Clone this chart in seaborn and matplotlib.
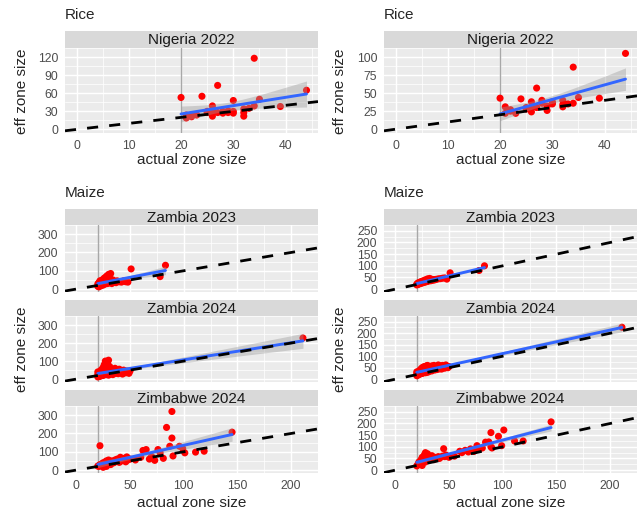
import numpy as np
import pandas as pd
import matplotlib
matplotlib.use('Agg')
import matplotlib.pyplot as plt
import seaborn as sns

# Rice, Nigeria 2022: actual zone size and the two eff zone size estimates
rice_x = [20, 21, 21, 22, 22, 23, 24, 25, 25, 26, 26, 26, 27, 27, 28,
          28, 29, 29, 30, 30, 30, 32, 32, 32, 33, 34, 34, 35, 39, 44]
rice_left = [53, 19, 24, 21, 23, 24, 55, 28, 30, 22, 30, 39, 73, 28, 27,
             30, 31, 28, 27, 48, 30, 22, 28, 34, 35, 39, 118, 50, 38, 65]
rice_right = [43, 31, 22, 27, 25, 22, 42, 28, 30, 24, 30, 38, 57, 30, 40,
              36, 26, 32, 36, 35, 38, 31, 34, 40, 35, 36, 86, 44, 43, 105]

# Maize, Zambia 2023
zam23_x = [20, 20, 21, 21, 22, 22, 23, 23, 24, 24, 25, 25, 26, 26, 27, 27, 28, 28, 29, 29,
           30, 30, 31, 31, 32, 33, 33, 34, 35, 36, 37, 38, 40, 42, 44, 46, 48, 51, 78, 83]
zam23_left = [15, 28, 12, 35, 20, 45, 18, 30, 25, 50, 22, 40, 30, 60, 28, 48, 35, 70, 30, 55,
              40, 80, 35, 62, 85, 45, 30, 50, 38, 42, 35, 45, 40, 38, 45, 40, 38, 110, 68, 130]
zam23_right = [18, 22, 20, 26, 22, 28, 24, 30, 25, 32, 27, 33, 28, 36, 30, 34, 31, 40, 32, 38,
               34, 44, 35, 40, 46, 36, 37, 42, 38, 41, 40, 42, 44, 45, 47, 48, 43, 70, 80, 100]

# Maize, Zambia 2024
zam24_x = [20, 20, 20, 21, 21, 22, 22, 22, 23, 23, 24, 24, 25, 25, 25, 26, 26, 27, 27, 28,
           28, 29, 29, 30, 30, 30, 31, 31, 32, 32, 33, 34, 34, 35, 36, 37, 38, 39, 40, 41,
           42, 43, 44, 45, 46, 47, 48, 49, 50, 211]
zam24_left = [12, 25, 40, 15, 30, 20, 42, 15, 28, 50, 22, 55, 20, 35, 65, 28, 80, 32, 100, 25,
              60, 40, 90, 22, 105, 45, 35, 70, 28, 55, 42, 25, 50, 38, 60, 32, 45, 30, 55, 38,
              42, 28, 50, 40, 35, 45, 38, 32, 45, 228]
zam24_right = [15, 25, 32, 18, 30, 22, 35, 20, 33, 40, 24, 45, 25, 38, 50, 28, 52, 30, 55, 28,
               48, 32, 58, 30, 60, 45, 33, 55, 35, 50, 40, 36, 58, 42, 60, 40, 55, 42, 62, 45,
               58, 44, 60, 50, 48, 62, 52, 50, 55, 226]

# Maize, Zimbabwe 2024
zim24_x = [20, 21, 22, 22, 23, 24, 25, 25, 26, 27, 28, 28, 29, 30, 30, 31, 32, 33, 34, 35,
           36, 37, 38, 40, 41, 42, 44, 45, 46, 47, 48, 50, 55, 60, 62, 65, 68, 70, 73, 76,
           78, 81, 84, 87, 89, 89, 90, 96, 99, 101, 111, 119, 145]
zim24_left = [22, 20, 133, 30, 25, 35, 15, 40, 30, 45, 20, 50, 38, 35, 55, 42, 30, 50, 45, 40,
              55, 48, 60, 42, 70, 50, 58, 65, 45, 72, 55, 60, 55, 70, 107, 112, 60, 75, 53, 112,
              95, 64, 233, 130, 320, 175, 77, 130, 118, 94, 98, 103, 207]
zim24_right = [18, 25, 30, 35, 28, 45, 20, 55, 40, 65, 35, 75, 50, 60, 70, 45, 55, 50, 62, 48,
               45, 55, 52, 58, 50, 55, 60, 92, 58, 65, 60, 55, 60, 81, 75, 85, 78, 91, 80, 105,
               90, 95, 120, 121, 161, 100, 95, 145, 105, 172, 125, 125, 207]

sns.set_theme(style='darkgrid', rc={
    'axes.facecolor': '#EBEBEB',
    'grid.color': 'white',
    'axes.edgecolor': 'none',
})
plt.rcParams['font.family'] = ['Liberation Sans', 'DejaVu Sans']

W, H = 644, 515
fig = plt.figure(figsize=(W / 100, H / 100), dpi=100)
fig.patch.set_facecolor('white')


def box(l, t, r, b):
    return fig.add_axes([l / W, 1 - b / H, (r - l) / W, (b - t) / H])


def t975(df):
    try:
        from scipy import stats
        return stats.t.ppf(0.975, df)
    except ImportError:
        return 1.96 + 2.4 / df + 2.6 / df ** 2


def lm_band(ax, x, y):
    # 95% confidence band of a straight-line fit, like geom_smooth(method = "lm")
    x = np.asarray(x, float)
    y = np.asarray(y, float)
    X = np.column_stack([np.ones_like(x), x])
    beta, *_ = np.linalg.lstsq(X, y, rcond=None)
    resid = y - X @ beta
    s2 = resid @ resid / (len(x) - 2)
    cov = s2 * np.linalg.inv(X.T @ X)
    grid = np.linspace(x.min(), x.max(), 100)
    G = np.column_stack([np.ones_like(grid), grid])
    fit = G @ beta
    se = np.sqrt(np.einsum('ij,jk,ik->i', G, cov, G))
    t = t975(len(x) - 2)
    ax.fill_between(grid, fit - t * se, fit + t * se, color='#999999', alpha=0.4,
                    lw=0, zorder=3)


def panel(l, t, r, b, strip_h, label, x, y, xlim, ylim, xticks, yticks, show_x):
    st = box(l, t - strip_h, r, t)
    st.set_facecolor('#D9D9D9')
    st.set_xticks([])
    st.set_yticks([])
    st.grid(False)
    st.text(0.5, 0.45, label, transform=st.transAxes, ha='center', va='center',
            fontsize=11, color='#1A1A1A')

    ax = box(l, t, r, b)
    df = pd.DataFrame({'actual': x, 'eff': y})
    ax.axvline(20, color='#A8A8A8', lw=1.0, zorder=1)
    sns.scatterplot(data=df, x='actual', y='eff', ax=ax, color='red', s=26,
                    edgecolor='none', zorder=2)
    lm_band(ax, x, y)
    sns.regplot(data=df, x='actual', y='eff', ax=ax, scatter=False, color='#3366FF',
                ci=None, line_kws={'lw': 2.1, 'zorder': 4})
    ax.axline((0, 0), slope=1, color='black', lw=2.0, ls=(0, (4, 4)), zorder=5)

    ax.set_xlim(xlim)
    ax.set_ylim(ylim)
    ax.set_xticks(xticks)
    ax.set_yticks(yticks)
    xstep = xticks[1] - xticks[0]
    ystep = yticks[1] - yticks[0]
    ax.set_xticks([v + xstep / 2 for v in xticks], minor=True)
    ax.set_yticks([v + ystep / 2 for v in yticks], minor=True)
    ax.grid(which='major', color='white', lw=1.07)
    ax.grid(which='minor', color='white', lw=0.53)
    ax.set_axisbelow(True)
    ax.set_xlabel('')
    ax.set_ylabel('')
    ax.tick_params(which='major', length=2.75, width=0.8, color='#333333',
                   labelsize=8.8, labelcolor='#4D4D4D', pad=2)
    ax.tick_params(which='minor', length=0)
    if not show_x:
        ax.tick_params(axis='x', which='major', length=0, labelbottom=False)
    return ax


rice_xlim = (-2.2, 46.2)
maize_xlim = (-10.55, 221.55)

for x0, yvals, ylim, yticks in [
        (65, rice_left, (-5.9, 123.9), [0, 30, 60, 90, 120]),
        (384, rice_right, (-5.25, 110.25), [0, 25, 50, 75, 100])]:
    panel(x0, 48, x0 + 253, 133, 17, 'Nigeria 2022', rice_x, yvals, rice_xlim, ylim,
          [0, 10, 20, 30, 40], yticks, True)

maize_sets = [
    (65, [(zam23_x, zam23_left), (zam24_x, zam24_left), (zim24_x, zim24_left)],
     (-16, 336), [0, 100, 200, 300]),
    (384, [(zam23_x, zam23_right), (zam24_x, zam24_right), (zim24_x, zim24_right)],
     (-12.25, 257.25), [0, 50, 100, 150, 200, 250]),
]
facet_names = ['Zambia 2023', 'Zambia 2024', 'Zimbabwe 2024']
facet_rows = [(225, 292), (316, 382), (406, 473)]
for x0, sets, ylim, yticks in maize_sets:
    for i, ((xs, ys), (t, b)) in enumerate(zip(sets, facet_rows)):
        panel(x0, t, x0 + 253, b, 16, facet_names[i], xs, ys, maize_xlim, ylim,
              [0, 50, 100, 150, 200], yticks, i == 2)

# titles and axis labels
for x0, ylab_x in [(65, 22), (384, 340)]:
    fig.text(x0 / W, 1 - 15 / H, 'Rice', fontsize=11, va='center', ha='left')
    fig.text(x0 / W, 1 - 193 / H, 'Maize', fontsize=11, va='center', ha='left')
    fig.text((x0 + 126.5) / W, 1 - 160 / H, 'actual zone size', fontsize=11,
             ha='center', va='center')
    fig.text((x0 + 126.5) / W, 1 - 503 / H, 'actual zone size', fontsize=11,
             ha='center', va='center')
    fig.text(ylab_x / W, 1 - 91 / H, 'eff zone size', fontsize=11, rotation=90,
             ha='center', va='center')
    fig.text(ylab_x / W, 1 - 349 / H, 'eff zone size', fontsize=11, rotation=90,
             ha='center', va='center')

fig.savefig('out.png', dpi=100)
